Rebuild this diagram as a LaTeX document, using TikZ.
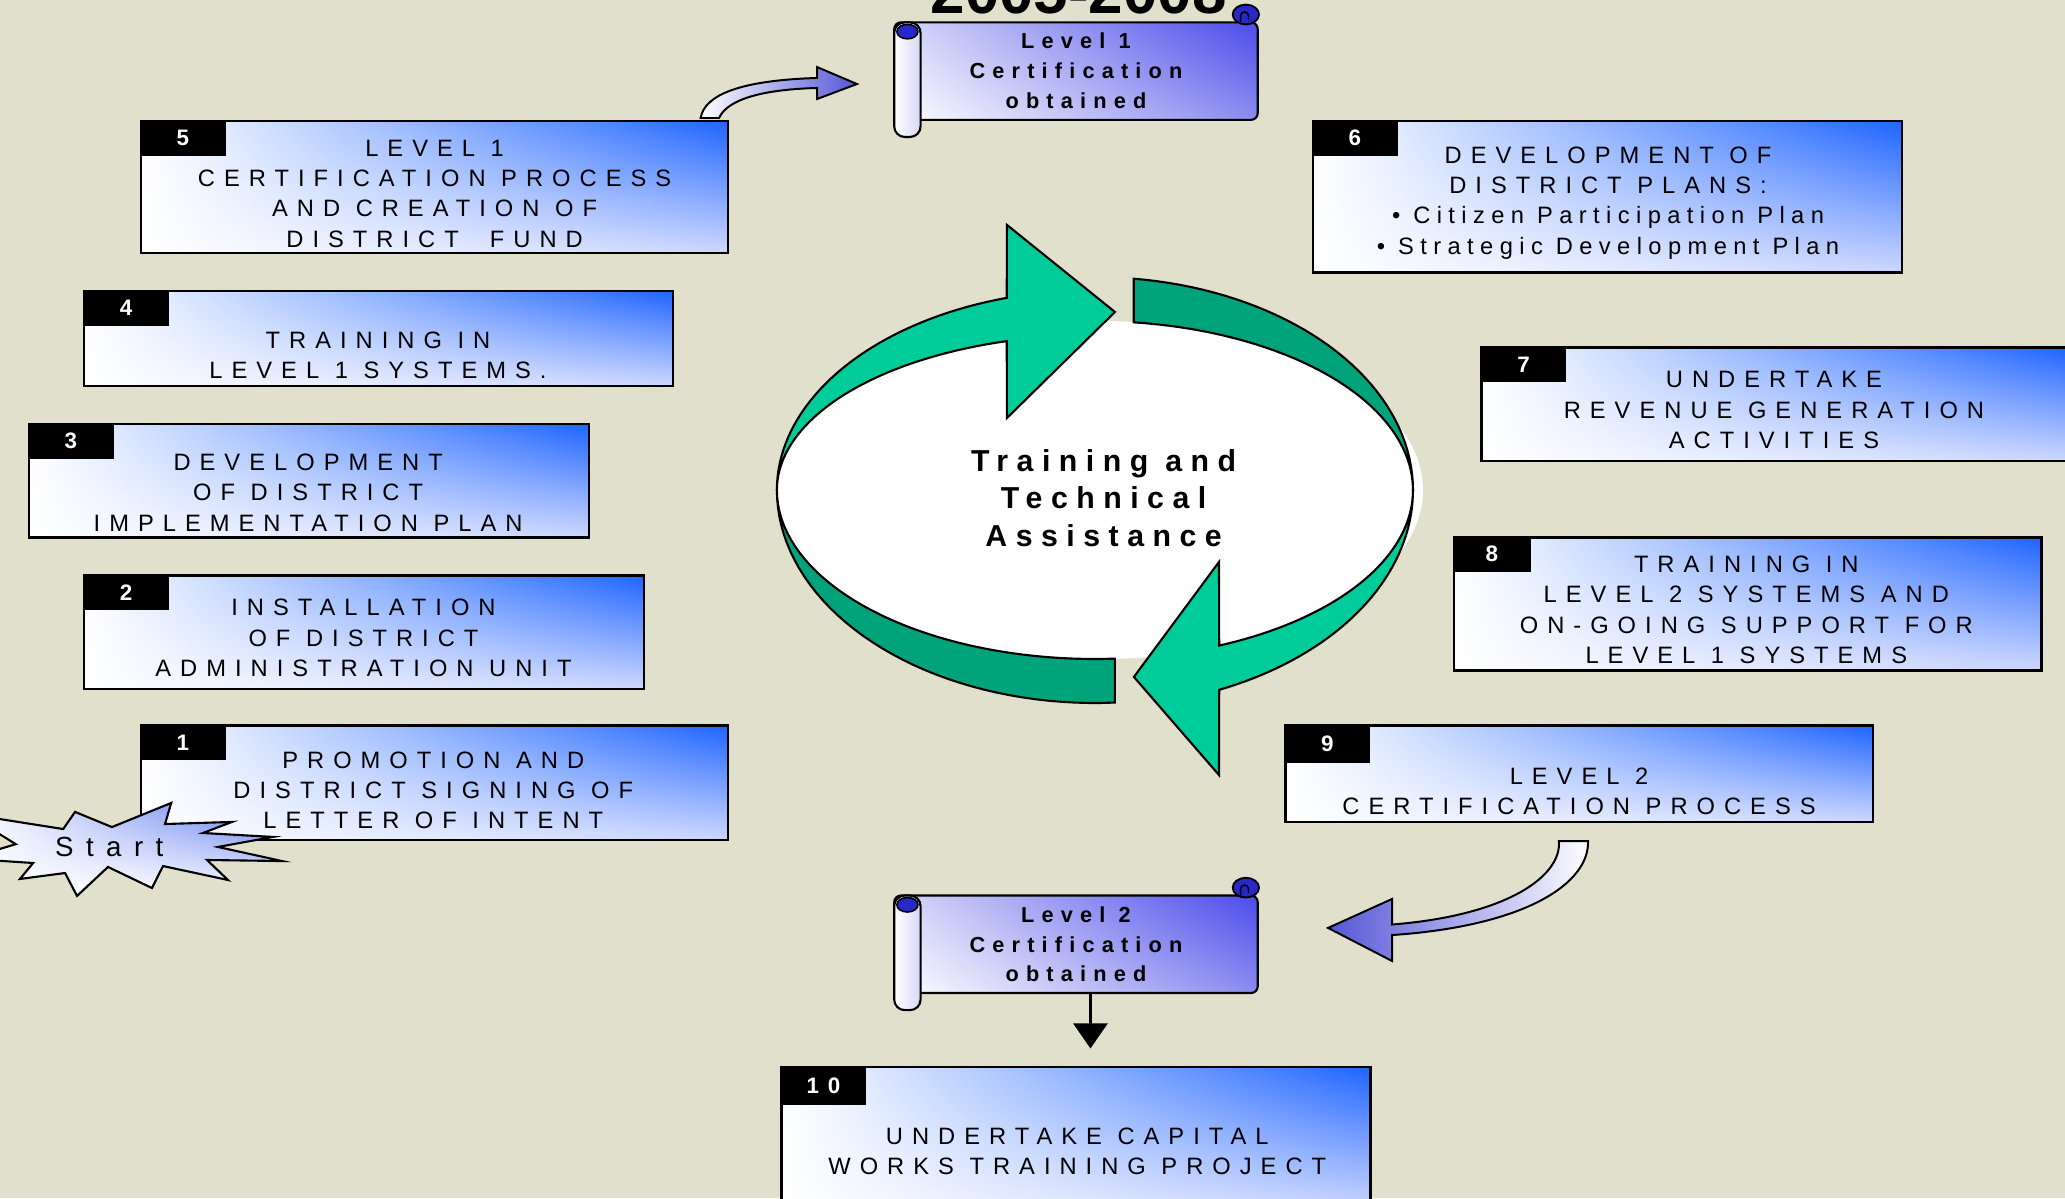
\documentclass[tikz,border=0pt]{standalone}
\usepackage{fontspec}
\setmainfont{Liberation Sans}
\newfontfamily\boxfont[LetterSpace=38]{Liberation Sans}
\newfontfamily\bulletfont[LetterSpace=27]{Liberation Sans}
\newfontfamily\scrollfont[LetterSpace=33]{Liberation Sans}
\newfontfamily\ringfont[LetterSpace=28]{Liberation Sans}
\newfontfamily\startfont[LetterSpace=45]{Liberation Sans}
\newfontfamily\tabfont[LetterSpace=40]{Liberation Sans}
\usetikzlibrary{arrows.meta, shadings}

\definecolor{bgbeige}{RGB}{224,224,205}
\definecolor{ringlight}{RGB}{0,204,153}
\definecolor{ringdark}{RGB}{0,163,122}
\definecolor{boxblue}{RGB}{30,100,255}
\definecolor{boxpale}{RGB}{205,215,255}
\definecolor{scrollblue}{RGB}{75,75,235}
\definecolor{scrollmid}{RGB}{140,140,240}
\definecolor{scrollpale}{RGB}{215,215,248}
\definecolor{curlblue}{RGB}{40,40,200}
\definecolor{arrowblue}{RGB}{85,85,215}
\definecolor{starblue}{RGB}{80,110,240}

\begin{document}
\begin{tikzpicture}[x=1pt, y=-1pt,
	stepbox/.style={draw, line width=1.8pt, inner sep=0pt, upper left=white, lower left=white, upper right=boxblue, lower right=boxpale},
	numtab/.style={fill=black, text=white, anchor=north west, minimum width=65, minimum height=27, inner sep=0pt, font=\tabfont\bfseries\fontsize{17}{17}\selectfont},
	boxtext/.style={align=center, font=\boxfont\fontsize{18}{23}\selectfont},
	ringband/.style={draw=black, line width=1.6pt, line join=miter},
	banner/.style={draw, line width=1.6pt, rounded corners=5pt, minimum width=276, minimum height=74, inner sep=0pt, align=center, upper left=scrollpale, lower left=white, upper right=scrollblue, lower right=scrollmid, font=\scrollfont\bfseries\fontsize{16.5}{22.7}\selectfont},
	fatarrow/.style={draw=black, line width=1.5pt},
]
	\useasboundingbox (0,0) rectangle (1568,909.7);
	\fill[bgbeige] (0,0) rectangle (1568,909.7);

	\node[font=\bfseries\fontsize{47}{47}\selectfont, anchor=base] (title) at (819,10.5) {2005-2008};

	% the training cycle in the middle
	\fill[white] (835.5,372.1) ellipse[x radius=245, y radius=128.3];
	\filldraw[ringband, fill=ringdark] plot[domain=277:360, samples=40] ({831.4+241.5*cos(\x)}, {372.1+161.7*sin(\x)})
		-- plot[domain=360:277, samples=40] ({831.4+241.5*cos(\x)}, {372.1+128.3*sin(\x)}) -- cycle;
	\filldraw[ringband, fill=ringdark] plot[domain=86.4:180, samples=40] ({831.4+241.5*cos(\x)}, {372.1+161.7*sin(\x)})
		-- plot[domain=180:86.4, samples=40] ({831.4+241.5*cos(\x)}, {372.1+128.3*sin(\x)}) -- cycle;
	\filldraw[ringband, fill=ringlight] plot[domain=180:253.9, samples=40] ({831.4+241.5*cos(\x)}, {372.1+151.9*sin(\x)})
		-- (764.6,170.8) -- (846.6,236.9) -- (764.6,317.4)
		-- plot[domain=253.9:180, samples=40] ({831.4+241.5*cos(\x)}, {372.1+117.7*sin(\x)}) -- cycle;
	\filldraw[ringband, fill=ringlight] plot[domain=0:67, samples=40] ({831.4+241.5*cos(\x)}, {372.1+164.8*sin(\x)})
		-- (925.6,588.5) -- (861,514) -- (925.6,426.7)
		-- plot[domain=67:0, samples=40] ({831.4+241.5*cos(\x)}, {372.1+128.3*sin(\x)}) -- cycle;
	\node[font=\ringfont\bfseries\fontsize{23}{28.5}\selectfont, align=center] (tta) at (838,378) {Training and\\Technical\\Assistance};

	% left column
	\node[stepbox, minimum width=446, minimum height=100] (b5) at (330,142) {};
	\node[numtab] (n5) at (b5.north west) {5};
	\node[boxtext] (t5) at (330,147) {LEVEL 1\\CERTIFICATION PROCESS\\AND CREATION OF\\DISTRICT\ \ FUND};

	\node[stepbox, minimum width=447, minimum height=72] (b4) at (287.5,257) {};
	\node[numtab] (n4) at (b4.north west) {4};
	\node[boxtext] (t4) at (287,270) {TRAINING IN\\LEVEL 1 SYSTEMS.};

	\node[stepbox, minimum width=425, minimum height=86] (b3) at (234.5,365) {};
	\node[numtab] (n3) at (b3.north west) {3};
	\node[boxtext] (t3) at (234,374) {DEVELOPMENT\\OF DISTRICT\\IMPLEMENTATION PLAN};

	\node[stepbox, minimum width=425, minimum height=86] (b2) at (276.5,480) {};
	\node[numtab] (n2) at (b2.north west) {2};
	\node[boxtext] (t2) at (276,484.5) {INSTALLATION\\OF DISTRICT\\ADMINISTRATION UNIT};

	\node[stepbox, minimum width=446, minimum height=87] (b1) at (330,594.5) {};
	\node[numtab] (n1) at (b1.north west) {1};
	\node[boxtext] (t1) at (329,600) {PROMOTION AND\\DISTRICT SIGNING OF\\LETTER OF INTENT};

	% right column
	\node[stepbox, minimum width=447, minimum height=115] (b6) at (1220.5,149.5) {};
	\node[numtab] (n6) at (b6.north west) {6};
	\node[boxtext] (t6) at (1221,154) {DEVELOPMENT OF\\DISTRICT PLANS:\\{\bulletfont\textbullet\ Citizen Participation Plan}\\{\bulletfont\textbullet\ Strategic Development Plan}};

	\node[stepbox, minimum width=446, minimum height=86] (b7) at (1348,307) {};
	\node[numtab] (n7) at (b7.north west) {7};
	\node[boxtext] (t7) at (1347,311.5) {UNDERTAKE\\REVENUE GENERATION\\ACTIVITIES};

	\node[stepbox, minimum width=446, minimum height=101] (b8) at (1327,458.5) {};
	\node[numtab, minimum width=59] (n8) at (b8.north west) {8};
	\node[boxtext] (t8) at (1326,463) {TRAINING IN\\LEVEL 2 SYSTEMS AND\\ON-GOING SUPPORT FOR\\LEVEL 1 SYSTEMS};

	\node[stepbox, minimum width=446, minimum height=73] (b9) at (1199,587.5) {};
	\node[numtab, minimum height=29] (n9) at (b9.north west) {9};
	\node[boxtext] (t9) at (1199,601) {LEVEL 2\\CERTIFICATION PROCESS};

	\node[stepbox, minimum width=447, minimum height=110] (b10) at (817,865) {};
	\node[numtab, minimum height=30] (n10) at (b10.north west) {10};
	\node[boxtext] (t10) at (818,874) {UNDERTAKE CAPITAL\\WORKS TRAINING PROJECT};

	% the two scrolls
	\begin{scope}
		\node[banner] (lvl1) at (817,54) {Level 1\\Certification\\obtained};
		\draw[line width=1.6pt, rounded corners=8pt, left color=white, right color=scrollpale] (679,17) rectangle (699,104);
		\filldraw[line width=1.2pt, fill=curlblue] (689,24) ellipse[x radius=8, y radius=5.5];
		\filldraw[line width=1.4pt, fill=curlblue] (946,11) ellipse[x radius=10, y radius=7.5];
		\draw[line width=1.1pt] (942,17) -- (942,12) arc[start angle=180, end angle=360, radius=3] -- (948,15);
	\end{scope}

	\begin{scope}[shift={(0,663)}]
		\node[banner] (lvl2) at (817,54) {Level 2\\Certification\\obtained};
		\draw[line width=1.6pt, rounded corners=8pt, left color=white, right color=scrollpale] (679,17) rectangle (699,104);
		\filldraw[line width=1.2pt, fill=curlblue] (689,24) ellipse[x radius=8, y radius=5.5];
		\filldraw[line width=1.4pt, fill=curlblue] (946,11) ellipse[x radius=10, y radius=7.5];
		\draw[line width=1.1pt] (942,17) -- (942,12) arc[start angle=180, end angle=360, radius=3] -- (948,15);
	\end{scope}

	% arrows between the steps
	\draw[fatarrow, left color=white, right color=arrowblue] (532,89.6) .. controls (535,72) and (562,61) .. (620.4,59.2)
		-- (620.4,50.9) -- (650.7,63.8) -- (620.4,75.2) -- (620.4,66.8)
		.. controls (577,68) and (552,76) .. (546,89.6) -- cycle;
	\draw[fatarrow, left color=arrowblue, right color=white] (1205.8,638.6) .. controls (1207,670) and (1160,703) .. (1057,710)
		-- (1057,729.7) -- (1008.4,704.6) -- (1057,682.6) -- (1057,702)
		.. controls (1145,695) and (1186,665) .. (1183.7,638.6) -- cycle;
	\draw[line width=1.6pt, -{Triangle[width=26pt,length=19pt]}] ([xshift=11pt]lvl2.south) -- ([xshift=11pt,yshift=13pt]b10.north);

	% start burst
	\draw[line width=1.6pt, line join=miter, upper left=white, lower left=white, upper right=starblue, lower right=white]
		(-25,618) -- (48,629.5) -- (57,616.5) -- (85,628) -- (130,609.7) -- (125.3,625.7) -- (176.2,624.1)
		-- (154.1,632.5) -- (207.3,635.5) -- (165.5,643.1) -- (214.1,653.8) -- (157.2,653) -- (173.1,668.2)
		-- (123.8,657.6) -- (115.4,674.3) -- (82,658.3) -- (58.5,680.3) -- (49.4,662.9) -- (15.2,667.4)
		-- (25.1,655.3) -- (-25,652) -- (12,641) -- cycle;
	\node[font=\startfont\fontsize{21}{21}\selectfont] (start) at (83,643) {Start};
\end{tikzpicture}
\end{document}
